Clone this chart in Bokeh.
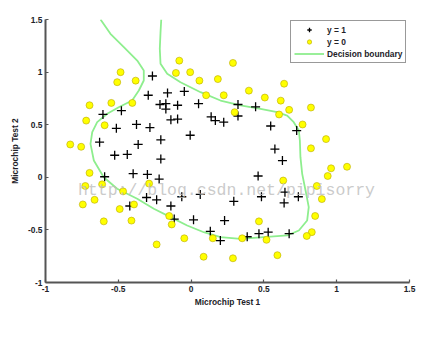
from bokeh.plotting import figure
from bokeh.models import Range1d, Label, Legend, LegendItem, FixedTicker
from bokeh.embed import file_html
from bokeh.resources import INLINE

# ---- data (ex2data2 microchip tests) ----
pos_x = [0.051267, -0.092742, -0.21371, -0.375, -0.51325, -0.52477, -0.39804, -0.30588, 0.016705, 0.13191,
         0.38537, 0.52938, 0.63882, 0.73675, 0.54666, 0.322, 0.16647, -0.046659, -0.17339, -0.47869,
         -0.60541, -0.62846, -0.59389, -0.42108, -0.11578, 0.20104, 0.46601, 0.67339, -0.13882, -0.29435,
         -0.26555, -0.16187, -0.17339, -0.28283, -0.36348, -0.30012, -0.23675, -0.06394, 0.062788, 0.22984,
         0.2932, 0.48329, 0.64459, 0.46025, 0.6273, 0.57546, 0.72523, 0.22408, 0.44297, 0.322,
         0.13767, -0.0063364, -0.092742, -0.20795, -0.20795, -0.43836, -0.21947, -0.13882]
pos_y = [0.69956, 0.68494, 0.69225, 0.50219, 0.46564, 0.2098, 0.034357, -0.19225, -0.40424, -0.51389,
         -0.56506, -0.5212, -0.24342, -0.18494, 0.48757, 0.5826, 0.53874, 0.81652, 0.69956, 0.63377,
         0.59722, 0.33406, 0.005117, -0.27266, -0.39693, -0.60161, -0.53582, -0.53582, 0.54605, 0.77997,
         0.96272, 0.8019, 0.64839, 0.47295, 0.31213, 0.027047, -0.21418, -0.18494, -0.16301, -0.41155,
         -0.2288, -0.18494, -0.14108, 0.012427, 0.15863, 0.26827, 0.44371, 0.52412, 0.67032, 0.69225,
         0.57529, 0.39985, 0.55336, 0.35599, 0.17325, 0.21711, -0.016813, -0.27266]
neg_x = [0.18376, 0.22408, 0.29896, 0.50634, 0.61578, 0.60426, 0.76555, 0.92684, 0.82316, 0.96141,
         0.93836, 0.86348, 0.89804, 0.85196, 0.82892, 0.79435, 0.59274, 0.51786, 0.46601, 0.35081,
         0.28744, 0.085829, 0.14919, -0.13306, -0.40956, -0.39228, -0.74366, -0.69758, -0.75518, -0.69758,
         -0.4038, -0.38076, -0.50749, -0.54781, 0.10311, 0.057028, -0.10426, -0.081221, 0.28744, 0.39689,
         0.63882, 0.82316, 0.67339, 1.0709, -0.046659, -0.23675, -0.15035, -0.49021, -0.46717, -0.28859,
         -0.61118, -0.66302, -0.59965, -0.72638, -0.83007, -0.72062, -0.59389, -0.48445, -0.0063364, 0.63265]
neg_y = [0.93348, 0.77997, 0.61915, 0.75804, 0.7288, 0.59722, 0.50219, 0.3633, 0.27558, 0.085526,
         0.012427, -0.082602, -0.20687, -0.36769, -0.5212, -0.55775, -0.7405, -0.5943, -0.41886, -0.57968,
         -0.76974, -0.75512, -0.57968, -0.4481, -0.41155, -0.25804, -0.25804, 0.041667, 0.2902, 0.68494,
         0.70687, 0.91886, 0.90424, 0.70687, 0.77997, 0.91886, 0.99196, 1.1089, 1.087, 0.82383,
         0.88962, 0.66301, 0.64108, 0.10015, -0.57968, -0.63816, -0.36769, -0.3019, -0.13377, -0.0599,
         -0.067251, -0.21418, -0.41886, -0.082602, 0.31213, 0.53874, 0.49488, 0.99927, 0.99927, -0.030612]

# decision boundary
boundary_x = [-0.622, -0.554, -0.462, -0.370, -0.325, -0.325, -0.359, -0.405, -0.497, -0.576,
              -0.645, -0.679, -0.691, -0.668, -0.600, -0.508, -0.370, -0.256, -0.141, -0.027,
              0.087, 0.202, 0.339, 0.431, 0.660, 0.740, 0.797, 0.808, 0.786, 0.763,
              0.751, 0.747, 0.740, 0.705, 0.660, 0.591, 0.477, 0.339, 0.202, 0.065,
              -0.073, -0.164, -0.210, -0.215, -0.210, -0.205]
boundary_y = [1.500, 1.364, 1.237, 1.110, 1.015, 0.920, 0.825, 0.730, 0.666, 0.604,
              0.524, 0.429, 0.318, 0.160, 0.001, -0.109, -0.204, -0.299, -0.379, -0.458,
              -0.522, -0.569, -0.585, -0.575, -0.553, -0.506, -0.411, -0.284, -0.125, 0.033,
              0.191, 0.350, 0.445, 0.524, 0.587, 0.619, 0.651, 0.683, 0.730, 0.809,
              0.904, 0.984, 1.079, 1.222, 1.379, 1.500]

tick_values = [-1, -0.5, 0, 0.5, 1, 1.5]
tick_labels = ["-1", "-0.5", "0", "0.5", "1", "1.5"]

title_text = "lambda = 0"
xlabel = "Microchip Test 1"
ylabel = "Microchip Test 2"
caption = "Figure 5: No regularization (Overfitting) (\u03bb = 0)"
watermark = "http://blog.csdn.net/pipisorry"
legend_labels = ["y = 1", "y = 0", "Decision boundary"]

FONT = "Liberation Sans"
TXT = "#222228"
FS = "8.4px"

p = figure(width=436, height=359, output_backend="svg", toolbar_location=None,
           x_range=Range1d(-1, 1.5), y_range=Range1d(-1, 1.5),
           min_border_left=45, min_border_right=27, min_border_top=19, min_border_bottom=77,
           title=None)
p.outline_line_color = None
p.xgrid.visible = False
p.ygrid.visible = False
p.background_fill_color = "white"
p.border_fill_color = "white"

for ax in (p.xaxis[0], p.yaxis[0]):
    ax.ticker = FixedTicker(ticks=tick_values)
    ax.major_label_overrides = {v: s for v, s in zip(tick_values, tick_labels)}
    ax.axis_line_color = "#555555"
    ax.axis_line_width = 2
    ax.major_tick_line_color = "#555555"
    ax.major_tick_line_width = 1.2
    ax.major_tick_in = 3
    ax.major_tick_out = 0
    ax.minor_tick_line_color = None
    ax.major_label_text_font = FONT
    ax.major_label_text_font_size = FS
    ax.major_label_text_font_style = "bold"
    ax.major_label_text_color = TXT
    ax.axis_label_text_font = FONT
    ax.axis_label_text_font_size = FS
    ax.axis_label_text_font_style = "bold"
    ax.axis_label_text_color = TXT

p.xaxis.axis_label = xlabel
p.yaxis.axis_label = ylabel
p.xaxis.major_label_standoff = 3
p.yaxis.major_label_standoff = 3
p.xaxis.axis_label_standoff = 2
p.yaxis.axis_label_standoff = 5

# watermark
p.add_layout(Label(x=0.243, y=-0.125, text=watermark, text_font="Liberation Mono",
                   text_font_size="16.5px", text_color="#bdbdbd", text_alpha=0.8,
                   text_align="center", text_baseline="middle"))

r_line = p.line(boundary_x, boundary_y, line_color="#8eee8e", line_width=1.8)
r_pos = p.scatter(pos_x, pos_y, marker="cross", size=9, line_color="black", line_width=1.3)
r_neg = p.scatter(neg_x, neg_y, marker="circle", size=7, fill_color="#ffff00",
                  line_color="#b8a800", line_width=0.6)

legend = Legend(items=[LegendItem(label=legend_labels[0], renderers=[r_pos]),
                       LegendItem(label=legend_labels[1], renderers=[r_neg]),
                       LegendItem(label=legend_labels[2], renderers=[r_line])],
                location=(245, 219))
legend.label_text_font = FONT
legend.label_text_font_size = FS
legend.label_text_font_style = "bold"
legend.label_text_color = TXT
legend.glyph_width = 30
legend.glyph_height = 11
legend.label_height = 11
legend.label_standoff = 3
legend.spacing = 1
legend.padding = 3
legend.margin = 0
legend.border_line_color = "#333333"
legend.border_line_width = 1.5
legend.background_fill_color = "white"
legend.background_fill_alpha = 1
p.add_layout(legend, "center")

p.add_layout(Label(x=0.248, y=1.569, text=title_text, text_font=FONT, text_font_size=FS,
                   text_font_style="bold", text_color=TXT, text_align="center", text_baseline="middle"))
p.add_layout(Label(x=0.1435, y=-1.52, text=caption, text_font="Liberation Serif",
                   text_font_size="18px", text_color="#333333",
                   text_align="center", text_baseline="middle"))

open("out.html", "w").write(file_html(p, INLINE))
